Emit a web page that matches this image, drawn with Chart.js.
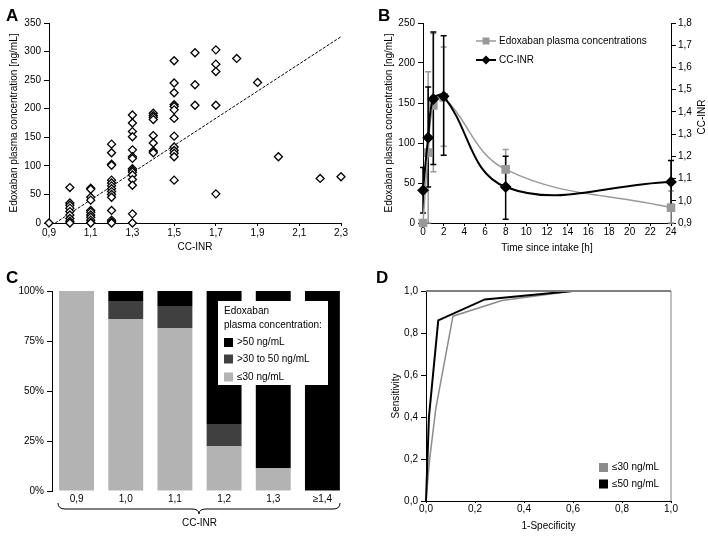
<!DOCTYPE html>
<html>
<head>
<meta charset="utf-8">
<script src="https://cdn.jsdelivr.net/npm/chart.js@4.4.1/dist/chart.umd.min.js"></script>
<style>
body { margin: 0; background: #fff; width: 708px; height: 536px; position: relative; overflow: hidden; }
canvas { position: absolute; }
.lbl { position: absolute; font: bold 17px "Liberation Sans", Arial, sans-serif; line-height: 17px; }
</style>
</head>
<body>
<canvas id="cA" width="354" height="268" style="left:0;top:0"></canvas>
<canvas id="cB" width="354" height="268" style="left:354px;top:0"></canvas>
<canvas id="cC" width="354" height="268" style="left:0;top:268px"></canvas>
<canvas id="cD" width="354" height="268" style="left:354px;top:268px"></canvas>
<div class="lbl" style="left:6px;top:7px">A</div>
<div class="lbl" style="left:378px;top:7px">B</div>
<div class="lbl" style="left:6px;top:269px">C</div>
<div class="lbl" style="left:376px;top:269px">D</div>
<script>
// A: CC-INR vs edoxaban concentration
var inrLevels = [0.9, 1.0, 1.1, 1.2, 1.3, 1.4, 1.5, 1.6, 1.7, 1.8, 1.9, 2.0, 2.2, 2.3];
var concByLevel = [
  [0],
  [62, 35, 31, 26, 20, 14, 8, 3, 0],
  [61, 59, 45, 40, 22, 19, 14, 10, 5, 1, 0],
  [138, 123, 103, 101, 75, 70, 65, 60, 55, 50, 45, 22, 5, 2, 0],
  [189, 175, 160, 151, 128, 116, 113, 95, 92, 89, 84, 76, 66, 16, 0],
  [192, 188, 185, 181, 153, 140, 126, 123],
  [284, 245, 228, 207, 204, 198, 183, 152, 133, 127, 122, 116, 75],
  [298, 242, 206],
  [303, 278, 265, 206, 51],
  [288],
  [246],
  [116],
  [78],
  [81]
];
var fitX = [0.93, 2.3];
var fitY = [0, 326];
var ticksA = [0.9, 1.1, 1.3, 1.5, 1.7, 1.9, 2.1, 2.3];

// B: time course
var timeB = [0, 0.5, 1, 2, 8, 24];
var concB = [0, 88, 147, 157, 67, 19];
var concLow = [null, 0, 64, 96, 42, 0];
var concHigh = [null, 189, 237, 220, 92, 40];
var inrB = [1.047, 1.284, 1.458, 1.47, 1.062, 1.085];
var inrLow = [0.945, 1.062, 1.163, 1.205, 0.917, 0.983];
var inrHigh = [1.15, 1.512, 1.76, 1.743, 1.2, 1.181];
var ticksInr = [0.9, 1.0, 1.1, 1.2, 1.3, 1.4, 1.5, 1.6, 1.7, 1.8];

// C: stacked share per CC-INR
var catC = ["0,9", "1,0", "1,1", "1,2", "1,3", "≥1,4"];
var le30 = [100, 86, 81.5, 22.5, 11.5, 0];
var mid30to50 = [0, 9, 11, 11, 0, 0];
var gt50 = [0, 5, 7.5, 66.5, 88.5, 100];

// D: ROC
var rocX30 = [0, 0.015, 0.04, 0.11, 0.31, 0.6, 1];
var rocY30 = [0, 0.2, 0.44, 0.88, 0.955, 1, 1];
var rocX50 = [0, 0.012, 0.05, 0.24, 0.6, 1];
var rocY50 = [0, 0.4, 0.86, 0.96, 1, 1];

Chart.defaults.font.family = "'Liberation Sans', Arial, sans-serif";
Chart.defaults.font.size = 10;
Chart.defaults.color = "#000";
Chart.defaults.animation = false;
Chart.defaults.plugins.legend.display = false;
Chart.defaults.plugins.tooltip.enabled = false;

function comma(v) { return Number(v).toFixed(1).replace(".", ","); }
function zip(xs, ys) { return xs.map(function (x, i) { return { x: x, y: ys[i] }; }); }
function gridOpts(len) { return { drawOnChartArea: false, tickLength: len, color: "#000" }; }

var pointsA = [];
inrLevels.forEach(function (lv, i) {
  concByLevel[i].forEach(function (c) { pointsA.push({ x: lv, y: c }); });
});

new Chart("cA", {
  type: "scatter",
  data: {
    datasets: [
      { data: pointsA, pointStyle: "rectRot", radius: 4, backgroundColor: "#fff", borderColor: "#000", borderWidth: 1.3, clip: false },
      { type: "line", data: zip(fitX, fitY), borderColor: "#000", borderWidth: 1, borderDash: [3, 1.5], pointRadius: 0, clip: false }
    ]
  },
  options: {
    responsive: false,
    layout: { padding: { top: 23, right: 13, left: 0, bottom: 0 } },
    scales: {
      x: {
        type: "linear", min: 0.9, max: 2.3,
        afterBuildTicks: function (s) { s.ticks = ticksA.map(function (v) { return { value: v }; }); },
        ticks: { callback: comma, padding: 1 },
        grid: gridOpts(3), border: { color: "#000" },
        title: { display: true, text: "CC-INR", padding: { top: 0, bottom: 15 } },
        afterFit: function (s) { s.height = 45; }
      },
      y: {
        min: 0, max: 350, ticks: { stepSize: 50, padding: 3 },
        grid: gridOpts(5), border: { color: "#000" },
        title: { display: true, text: "Edoxaban plasma concentration [ng/mL]", padding: { top: 8, bottom: 0 } },
        afterFit: function (s) { s.width = 49; }
      }
    }
  }
});

var errorBars = {
  id: "errorBars",
  beforeDatasetsDraw: function (chart) {
    var ctx = chart.ctx, x = chart.scales.x;
    var sets = [
      { axis: chart.scales.y, lo: concLow, hi: concHigh, color: "#999" },
      { axis: chart.scales.y1, lo: inrLow, hi: inrHigh, color: "#000" }
    ];
    ctx.save();
    sets.forEach(function (s) {
      ctx.strokeStyle = s.color;
      ctx.lineWidth = 1.5;
      timeB.forEach(function (t, i) {
        if (s.lo[i] === null) return;
        var px = x.getPixelForValue(t), y1 = s.axis.getPixelForValue(s.lo[i]), y2 = s.axis.getPixelForValue(s.hi[i]);
        ctx.beginPath();
        ctx.moveTo(px, y1); ctx.lineTo(px, y2);
        ctx.moveTo(px - 3, y1); ctx.lineTo(px + 3, y1);
        ctx.moveTo(px - 3, y2); ctx.lineTo(px + 3, y2);
        ctx.stroke();
      });
    });
    ctx.restore();
  },
  afterDraw: function (chart) {
    var ctx = chart.ctx;
    ctx.save();
    // legend
    ctx.lineWidth = 1.5;
    ctx.strokeStyle = "#999"; ctx.fillStyle = "#999";
    ctx.beginPath(); ctx.moveTo(122, 41); ctx.lineTo(142, 41); ctx.stroke();
    ctx.fillRect(128.5, 37.5, 7, 7);
    ctx.strokeStyle = "#000"; ctx.fillStyle = "#000"; ctx.lineWidth = 2;
    ctx.beginPath(); ctx.moveTo(122, 60); ctx.lineTo(142, 60); ctx.stroke();
    ctx.beginPath(); ctx.moveTo(132, 55.5); ctx.lineTo(136.5, 60); ctx.lineTo(132, 64.5); ctx.lineTo(127.5, 60); ctx.closePath(); ctx.fill();
    ctx.font = "10px 'Liberation Sans', Arial, sans-serif";
    ctx.textBaseline = "middle";
    ctx.fillText("Edoxaban plasma concentrations", 145, 41);
    ctx.fillText("CC-INR", 145, 60);
    // right axis title
    ctx.translate(348, 117);
    ctx.rotate(-Math.PI / 2);
    ctx.textAlign = "center";
    ctx.fillText("CC-INR", 0, 0);
    ctx.restore();
  }
};

new Chart("cB", {
  type: "line",
  data: {
    datasets: [
      { data: zip(timeB, inrB), yAxisID: "y1", borderColor: "#000", backgroundColor: "#000", borderWidth: 2, tension: 0.4,
        pointStyle: "rectRot", radius: 4.5, clip: false },
      { data: zip(timeB, concB), yAxisID: "y", borderColor: "#999", backgroundColor: "#999", borderWidth: 1.5, tension: 0.4,
        pointStyle: "rect", radius: 5, clip: false }
    ]
  },
  options: {
    responsive: false,
    layout: { padding: { top: 23, right: 0, left: 0, bottom: 0 } },
    scales: {
      x: {
        type: "linear", min: 0, max: 24, ticks: { stepSize: 2, padding: 0 },
        grid: gridOpts(3), border: { color: "#000" },
        title: { display: true, text: "Time since intake [h]", padding: { top: 0, bottom: 14 } },
        afterFit: function (s) { s.height = 45; }
      },
      y: {
        position: "left", min: 0, max: 250, ticks: { stepSize: 50, padding: 3 },
        grid: gridOpts(5), border: { color: "#000" },
        title: { display: true, text: "Edoxaban plasma concentration [ng/mL]", padding: { top: 29, bottom: 0 } },
        afterFit: function (s) { s.width = 69; }
      },
      y1: {
        position: "right", min: 0.9, max: 1.8,
        afterBuildTicks: function (s) { s.ticks = ticksInr.map(function (v) { return { value: v }; }); },
        ticks: { callback: comma, padding: 2 },
        grid: gridOpts(5), border: { color: "#000" },
        afterFit: function (s) { s.width = 37; }
      }
    }
  },
  plugins: [errorBars]
});

var legendC = {
  id: "legendC",
  afterDraw: function (chart) {
    var ctx = chart.ctx;
    ctx.save();
    ctx.fillStyle = "#fff";
    ctx.fillRect(218, 33, 110, 84);
    ctx.fillStyle = "#000";
    ctx.font = "10px 'Liberation Sans', Arial, sans-serif";
    ctx.textBaseline = "middle";
    ctx.fillText("Edoxaban", 224, 43);
    ctx.fillText("plasma concentration:", 224, 57);
    var items = [["#000", ">50 ng/mL", 74.5], ["#404040", ">30 to 50 ng/mL", 91], ["#b3b3b3", "≤30 ng/mL", 109]];
    items.forEach(function (it) {
      ctx.fillStyle = it[0];
      ctx.fillRect(224, it[2] - 4.5, 9, 9);
      ctx.fillStyle = "#000";
      ctx.fillText(it[1], 237, it[2]);
    });
    // brace under the categories
    var a = chart.chartArea, l = a.left + 6, r = a.right - 7, m = (l + r) / 2, y = 241;
    ctx.strokeStyle = "#000"; ctx.lineWidth = 1;
    ctx.beginPath();
    ctx.moveTo(l, y - 6);
    ctx.quadraticCurveTo(l, y, l + 7, y);
    ctx.lineTo(m - 7, y);
    ctx.quadraticCurveTo(m, y, m, y + 5);
    ctx.quadraticCurveTo(m, y, m + 7, y);
    ctx.lineTo(r - 7, y);
    ctx.quadraticCurveTo(r, y, r, y - 6);
    ctx.stroke();
    ctx.restore();
  }
};

new Chart("cC", {
  type: "bar",
  data: {
    labels: catC,
    datasets: [
      { data: le30, backgroundColor: "#b3b3b3" },
      { data: mid30to50, backgroundColor: "#404040" },
      { data: gt50, backgroundColor: "#000" }
    ]
  },
  options: {
    responsive: false,
    barPercentage: 0.71, categoryPercentage: 1,
    layout: { padding: { top: 23, right: 7, left: 0, bottom: 0 } },
    scales: {
      x: {
        stacked: true, ticks: { padding: 2 },
        grid: { display: false, drawTicks: false }, border: { display: false },
        title: { display: true, text: "CC-INR", padding: { top: 0, bottom: 7 } },
        afterFit: function (s) { s.height = 45; }
      },
      y: {
        stacked: true, min: 0, max: 100,
        ticks: { stepSize: 25, padding: 3, callback: function (v) { return v + "%"; } },
        grid: gridOpts(5), border: { color: "#000" },
        afterFit: function (s) { s.width = 52; }
      }
    }
  },
  plugins: [legendC]
});

var frameD = {
  id: "frameD",
  afterDraw: function (chart) {
    var ctx = chart.ctx, a = chart.chartArea;
    ctx.save();
    ctx.strokeStyle = "#808080";
    ctx.lineWidth = 2;
    ctx.beginPath(); ctx.moveTo(a.left, a.top); ctx.lineTo(a.right, a.top); ctx.stroke();
    ctx.lineWidth = 1;
    ctx.beginPath(); ctx.moveTo(a.right, a.top); ctx.lineTo(a.right, a.bottom); ctx.stroke();
    ctx.fillStyle = "#8c8c8c"; ctx.fillRect(245, 195, 9, 9);
    ctx.fillStyle = "#000"; ctx.fillRect(245, 211.5, 9, 9);
    ctx.font = "10px 'Liberation Sans', Arial, sans-serif";
    ctx.textBaseline = "middle";
    ctx.fillText("≤30 ng/mL", 258, 199.5);
    ctx.fillText("≤50 ng/mL", 258, 216);
    ctx.restore();
  }
};

new Chart("cD", {
  type: "scatter",
  data: {
    datasets: [
      { data: zip(rocX50, rocY50), showLine: true, borderColor: "#000", borderWidth: 2, pointRadius: 0, clip: false },
      { data: zip(rocX30, rocY30), showLine: true, borderColor: "#8c8c8c", borderWidth: 1.5, pointRadius: 0, clip: false }
    ]
  },
  options: {
    responsive: false,
    layout: { padding: { top: 23, right: 37, left: 0, bottom: 0 } },
    scales: {
      x: {
        type: "linear", min: 0, max: 1, ticks: { stepSize: 0.2, callback: comma, padding: 0 },
        grid: gridOpts(2), border: { color: "#000" },
        title: { display: true, text: "1-Specificity", padding: { top: 0, bottom: 4 } },
        afterFit: function (s) { s.height = 35; }
      },
      y: {
        min: 0, max: 1, ticks: { stepSize: 0.2, callback: comma, padding: 3 },
        grid: gridOpts(5), border: { color: "#000" },
        title: { display: true, text: "Sensitivity", padding: { top: 36, bottom: 0 } },
        afterFit: function (s) { s.width = 72; }
      }
    }
  },
  plugins: [frameD]
});
</script>
</body>
</html>
